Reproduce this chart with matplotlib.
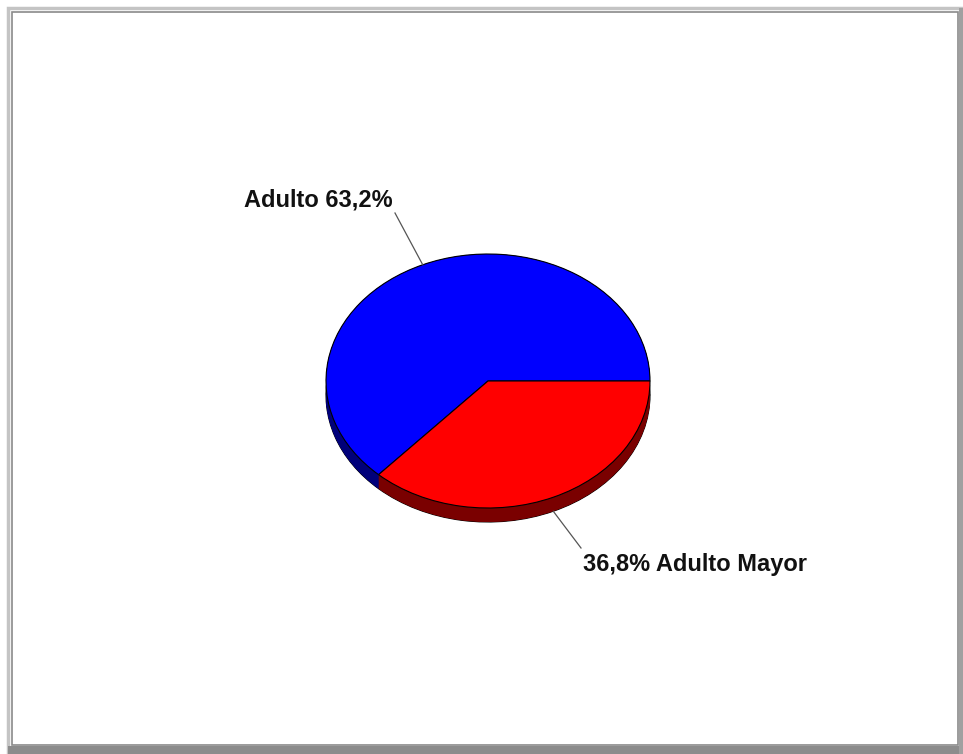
import matplotlib
matplotlib.use("Agg")
import matplotlib.pyplot as plt
from matplotlib.patches import Rectangle
import numpy as np

categories = ["Adulto", "Adulto Mayor"]
values = [63.2, 36.8]
top_colors = ["#0000ff", "#ff0000"]
side_colors = ["#00007a", "#7a0000"]

W, H = 963, 754
fig = plt.figure(figsize=(W / 100, H / 100), dpi=100)
fig.patch.set_facecolor("white")

# frame (pixel coordinates)
bg = fig.add_axes([0, 0, 1, 1])
bg.set_xlim(0, W)
bg.set_ylim(H, 0)
bg.axis("off")
bg.add_patch(Rectangle((8, 8), 953, 746, facecolor="none", edgecolor="#c4c4c4", lw=2.5))
bg.add_patch(Rectangle((12, 12), 946, 733, facecolor="none", edgecolor="#8a8a8a", lw=1.2))
bg.add_patch(Rectangle((8, 746), 955, 8, facecolor="#8c8c8c", edgecolor="none"))
bg.add_patch(Rectangle((959, 8), 4, 746, facecolor="#a0a0a0", edgecolor="none"))

# pie axes: ellipse center (488,381), rx=162, ry=127 px
cx, cy, rx, ry = 488, 381, 162, 127
top_px, bot_px = 230, 545
ax = fig.add_axes([(cx - rx) / W, 1 - bot_px / H, 2 * rx / W, (bot_px - top_px) / H])

depth = 14 / ry
# bottom layer with outline
ax.pie(values, startangle=0, counterclock=True, colors=side_colors, center=(0, -depth),
       wedgeprops=dict(edgecolor="black", linewidth=0.8), frame=True)
for off in np.linspace(depth, 0, 40):
    ax.pie(values, startangle=0, counterclock=True, colors=side_colors, center=(0, -off),
           wedgeprops=dict(edgecolor="none", linewidth=0), frame=True)
wedges, _ = ax.pie(values, startangle=0, counterclock=True, colors=top_colors,
                   wedgeprops=dict(edgecolor="black", linewidth=0.8), frame=True)
ax.set_aspect("auto")
ax.set_xlim(-1, 1)
ax.set_ylim(-(bot_px - cy) / ry, (cy - top_px) / ry)
ax.axis("off")

font = dict(family=["Liberation Sans", "DejaVu Sans"], weight="bold", fontsize=17, color="#111111")

def px2d(px, py):
    return ((px - cx) / rx, (cy - py) / ry)

w0, w1 = wedges
a0 = np.deg2rad((w0.theta1 + w0.theta2) / 2)
a1 = np.deg2rad((w1.theta1 + w1.theta2) / 2)

lab0 = f"{categories[0]} {values[0]:.1f}%".replace(".", ",")
lab1 = f"{values[1]:.1f}% {categories[1]}".replace(".", ",")

# leader lines
x0, y0 = np.cos(a0), np.sin(a0)
ax.plot([x0, px2d(395, 213)[0]], [y0, px2d(395, 213)[1]], color="#555555", lw=0.9, clip_on=False)
x1, y1 = np.cos(a1), np.sin(a1) - depth
ax.plot([x1, px2d(581, 548)[0]], [y1, px2d(581, 548)[1]], color="#555555", lw=0.9, clip_on=False)

tx, ty = px2d(393, 200)
ax.text(tx, ty, lab0, ha="right", va="center", clip_on=False, **font)
tx, ty = px2d(583, 564)
ax.text(tx, ty, lab1, ha="left", va="center", clip_on=False, **font)

fig.savefig("out.png", dpi=100, facecolor="white")
